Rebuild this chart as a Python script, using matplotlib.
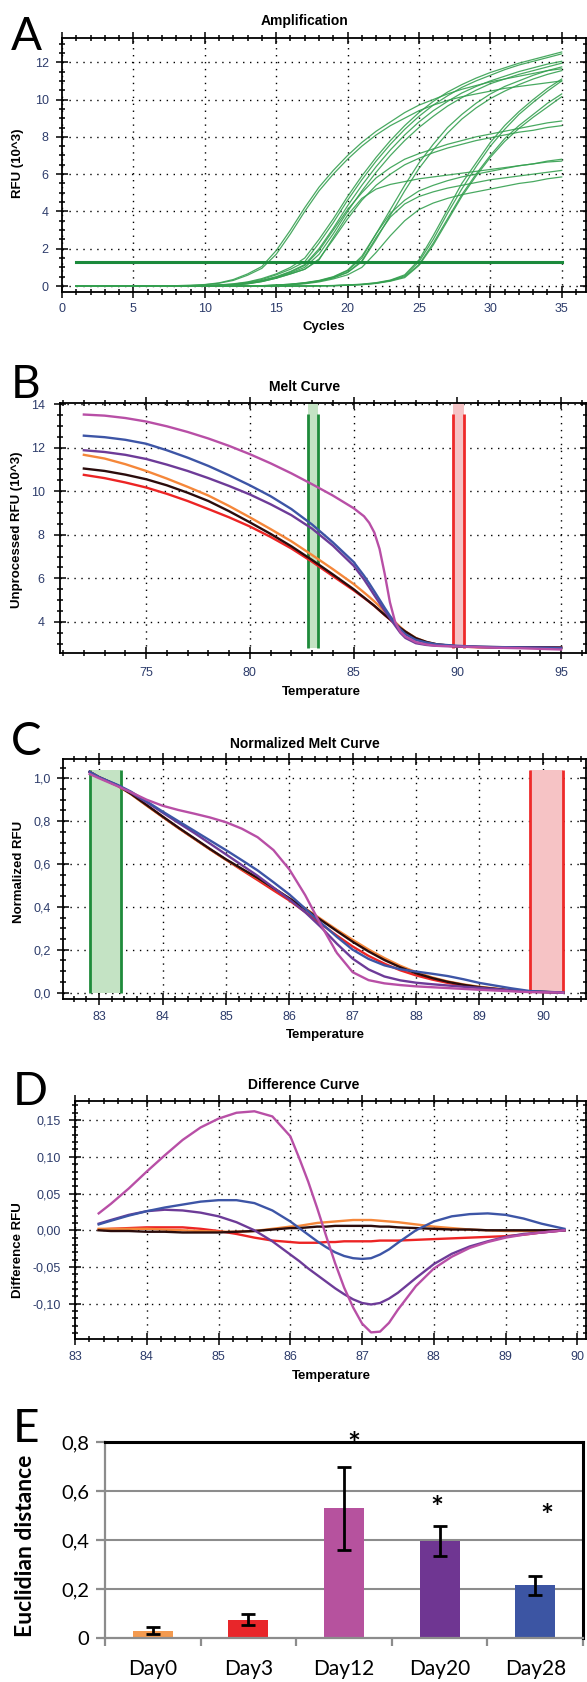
import matplotlib
matplotlib.use("Agg")
import matplotlib.pyplot as plt
from matplotlib.ticker import MultipleLocator, FuncFormatter
from matplotlib.transforms import offset_copy

# ---------------- data ----------------
cycles = list(range(1, 36))

# panel A: amplification curves (RFU x10^3), one value per cycle 1..35
amp_early = [
    [0, 0, 0, 0, 0, 0, 0, 0.02, 0.04, 0.08, 0.17, 0.35, 0.65, 1.05, 1.9, 3.0, 4.2, 5.3, 6.2, 7.0,
     7.7, 8.3, 8.8, 9.3, 9.7, 10.0, 10.3, 10.55, 10.75, 10.95, 11.1, 11.25, 11.4, 11.55, 11.65],
    [0, 0, 0, 0, 0, 0, 0, 0.02, 0.03, 0.07, 0.15, 0.3, 0.58, 0.95, 1.7, 2.8, 4.0, 5.1, 6.0, 6.8,
     7.5, 8.1, 8.6, 9.0, 9.4, 9.7, 9.95, 10.15, 10.3, 10.45, 10.6, 10.7, 10.8, 10.9, 11.0],
]
amp_mid = [
    [0, 0, 0, 0, 0, 0, 0, 0, 0.01, 0.03, 0.06, 0.12, 0.22, 0.4, 0.65, 1.0, 1.5, 2.5, 3.6, 4.8,
     5.9, 6.9, 7.8, 8.6, 9.3, 9.9, 10.4, 10.8, 11.15, 11.45, 11.7, 11.95, 12.15, 12.35, 12.55],
    [0, 0, 0, 0, 0, 0, 0, 0, 0.01, 0.02, 0.05, 0.1, 0.2, 0.35, 0.6, 0.9, 1.3, 2.3, 3.4, 4.6,
     5.7, 6.7, 7.6, 8.4, 9.1, 9.7, 10.2, 10.65, 11.0, 11.3, 11.6, 11.85, 12.05, 12.25, 12.45],
    [0, 0, 0, 0, 0, 0, 0, 0, 0, 0.02, 0.04, 0.08, 0.16, 0.3, 0.5, 0.78, 1.15, 2.0, 3.1, 4.3,
     5.4, 6.4, 7.3, 8.1, 8.8, 9.4, 9.9, 10.35, 10.7, 11.0, 11.25, 11.5, 11.7, 11.9, 12.05],
    [0, 0, 0, 0, 0, 0, 0, 0, 0, 0.02, 0.03, 0.07, 0.14, 0.26, 0.45, 0.7, 1.0, 1.7, 2.8, 4.0,
     5.1, 6.1, 7.0, 7.8, 8.5, 9.1, 9.65, 10.1, 10.5, 10.85, 11.1, 11.35, 11.55, 11.75, 11.95],
    [0, 0, 0, 0, 0, 0, 0, 0, 0, 0.02, 0.04, 0.08, 0.15, 0.28, 0.48, 0.75, 1.1, 1.9, 3.0, 4.1,
     5.0, 5.8, 6.35, 6.8, 7.1, 7.35, 7.6, 7.8, 8.0, 8.15, 8.3, 8.45, 8.6, 8.75, 8.85],
    [0, 0, 0, 0, 0, 0, 0, 0, 0, 0.01, 0.03, 0.06, 0.12, 0.24, 0.42, 0.65, 0.9, 1.45, 2.5, 3.6,
     4.6, 5.4, 6.0, 6.5, 6.85, 7.15, 7.4, 7.6, 7.8, 7.95, 8.1, 8.25, 8.35, 8.5, 8.6],
    [0, 0, 0, 0, 0, 0, 0, 0, 0, 0.01, 0.03, 0.06, 0.12, 0.24, 0.42, 0.65, 0.9, 1.4, 2.6, 3.8,
     4.7, 5.2, 5.45, 5.6, 5.75, 5.85, 5.95, 6.05, 6.15, 6.25, 6.35, 6.45, 6.55, 6.65, 6.7],
]
amp_late = [
    [0, 0, 0, 0, 0, 0, 0, 0, 0, 0, 0, 0, 0, 0.02, 0.05, 0.1, 0.18, 0.3, 0.5, 0.85,
     1.6, 2.8, 4.1, 5.4, 6.6, 7.6, 8.5, 9.2, 9.8, 10.3, 10.7, 11.0, 11.3, 11.55, 11.75],
    [0, 0, 0, 0, 0, 0, 0, 0, 0, 0, 0, 0, 0, 0.01, 0.04, 0.08, 0.15, 0.26, 0.44, 0.72,
     1.3, 2.5, 3.8, 5.1, 6.3, 7.3, 8.2, 8.95, 9.55, 10.05, 10.45, 10.8, 11.1, 11.35, 11.55],
    [0, 0, 0, 0, 0, 0, 0, 0, 0, 0, 0, 0, 0, 0.02, 0.05, 0.1, 0.17, 0.28, 0.48, 0.82,
     1.5, 2.8, 3.9, 4.6, 5.1, 5.4, 5.65, 5.85, 6.0, 6.15, 6.3, 6.45, 6.55, 6.7, 6.8],
    [0, 0, 0, 0, 0, 0, 0, 0, 0, 0, 0, 0, 0, 0.01, 0.04, 0.08, 0.15, 0.26, 0.44, 0.74,
     1.35, 2.6, 3.7, 4.4, 4.8, 5.05, 5.25, 5.4, 5.55, 5.7, 5.8, 5.9, 6.0, 6.1, 6.2],
    [0, 0, 0, 0, 0, 0, 0, 0, 0, 0, 0, 0, 0, 0.01, 0.03, 0.06, 0.12, 0.22, 0.38, 0.6,
     1.0, 1.8, 2.7, 3.5, 4.1, 4.45, 4.7, 4.9, 5.05, 5.2, 5.35, 5.5, 5.6, 5.75, 5.85],
]
amp_last = [
    [0, 0, 0, 0, 0, 0, 0, 0, 0, 0, 0, 0, 0, 0, 0, 0, 0, 0.01, 0.03, 0.06,
     0.1, 0.18, 0.32, 0.6, 1.4, 2.7, 4.1, 5.5, 6.6, 7.7, 8.6, 9.35, 10.0, 10.6, 11.1],
    [0, 0, 0, 0, 0, 0, 0, 0, 0, 0, 0, 0, 0, 0, 0, 0, 0, 0.01, 0.02, 0.05,
     0.09, 0.16, 0.3, 0.55, 1.3, 2.5, 3.9, 5.2, 6.4, 7.5, 8.4, 9.2, 9.85, 10.45, 11.0],
    [0, 0, 0, 0, 0, 0, 0, 0, 0, 0, 0, 0, 0, 0, 0, 0, 0, 0.01, 0.02, 0.04,
     0.08, 0.15, 0.28, 0.5, 1.15, 2.3, 3.6, 4.9, 6.0, 7.0, 7.9, 8.6, 9.2, 9.8, 10.3],
    [0, 0, 0, 0, 0, 0, 0, 0, 0, 0, 0, 0, 0, 0, 0, 0, 0, 0.01, 0.02, 0.04,
     0.07, 0.14, 0.26, 0.45, 1.1, 2.2, 3.5, 4.8, 5.9, 6.9, 7.75, 8.45, 9.05, 9.6, 10.15],
]
threshold = 1.29

# panel B: raw melt curves
temps_b = [72, 73, 74, 75, 76, 77, 78, 79, 80, 81, 82, 83, 84, 85, 85.5, 85.75, 86, 86.25,
           86.5, 86.75, 87, 87.25, 87.5, 88, 88.5, 89, 90, 91, 92, 93, 94, 95]
melt_red = [10.75, 10.6, 10.4, 10.17, 9.88, 9.55, 9.18, 8.8, 8.38, 7.9, 7.37, 6.76, 6.1, 5.45,
            5.1, 4.92, 4.73, 4.52, 4.31, 4.11, 3.9, 3.7, 3.52, 3.22, 3.04, 2.95, 2.86, 2.84,
            2.83, 2.83, 2.82, 2.82]
melt_orange = [11.67, 11.5, 11.24, 10.93, 10.58, 10.2, 9.8, 9.32, 8.8, 8.26, 7.7, 7.07, 6.42,
               5.74, 5.35, 5.15, 4.94, 4.71, 4.47, 4.23, 3.99, 3.76, 3.56, 3.26, 3.08, 2.97,
               2.87, 2.84, 2.82, 2.81, 2.8, 2.8]
melt_black = [11.04, 10.93, 10.76, 10.55, 10.27, 9.93, 9.55, 9.08, 8.57, 8.04, 7.47, 6.84, 6.18,
              5.5, 5.12, 4.93, 4.74, 4.53, 4.32, 4.12, 3.92, 3.72, 3.55, 3.25, 3.08, 2.97,
              2.87, 2.85, 2.84, 2.83, 2.83, 2.82]
melt_purple = [11.88, 11.8, 11.67, 11.48, 11.22, 10.93, 10.6, 10.24, 9.85, 9.4, 8.9, 8.28, 7.5,
               6.58, 5.95, 5.59, 5.22, 4.86, 4.5, 4.17, 3.83, 3.5, 3.26, 3.02, 2.94, 2.9,
               2.88, 2.85, 2.83, 2.82, 2.81, 2.8]
melt_blue = [12.55, 12.48, 12.36, 12.18, 11.88, 11.54, 11.16, 10.73, 10.27, 9.77, 9.18, 8.47,
             7.65, 6.75, 6.12, 5.77, 5.4, 5.02, 4.64, 4.28, 3.95, 3.66, 3.43, 3.17, 3.05, 2.97,
             2.9, 2.86, 2.84, 2.82, 2.81, 2.8]
melt_magenta = [13.52, 13.47, 13.36, 13.2, 12.98, 12.72, 12.42, 12.08, 11.7, 11.28, 10.82, 10.32,
                9.8, 9.22, 8.85, 8.55, 8.1, 7.35, 6.2, 4.9, 4.0, 3.55, 3.32, 3.07, 2.96, 2.9,
                2.87, 2.84, 2.81, 2.79, 2.76, 2.73]

# melt region markers (start/end temperature)
band_green_b = [82.8, 83.3]
band_red_b = [89.8, 90.3]
band_green_c = [82.85, 83.34]
band_red_c = [89.8, 90.32]

# panel C: normalized melt curves
temps_c = [82.85, 83.0, 83.3, 83.5, 83.75, 84, 84.25, 84.5, 84.75, 85, 85.25, 85.5, 85.75, 86,
           86.25, 86.5, 86.75, 87, 87.25, 87.5, 87.75, 88, 88.25, 88.5, 88.75, 89, 89.5, 89.8,
           90.32]
norm_red = [1.03, 1.005, 0.965, 0.928, 0.874, 0.82, 0.768, 0.718, 0.668, 0.62, 0.572, 0.525,
            0.477, 0.43, 0.376, 0.32, 0.266, 0.215, 0.171, 0.135, 0.104, 0.08, 0.061, 0.045,
            0.032, 0.022, 0.009, 0.004, 0.0]
norm_orange = [1.03, 1.005, 0.963, 0.926, 0.872, 0.82, 0.768, 0.718, 0.668, 0.62, 0.576, 0.533,
               0.487, 0.44, 0.393, 0.343, 0.293, 0.246, 0.201, 0.161, 0.125, 0.095, 0.071,
               0.052, 0.038, 0.027, 0.011, 0.005, 0.0]
norm_black = [1.03, 1.005, 0.965, 0.928, 0.875, 0.822, 0.77, 0.72, 0.67, 0.622, 0.578, 0.535,
              0.488, 0.44, 0.39, 0.338, 0.287, 0.237, 0.192, 0.152, 0.118, 0.09, 0.068, 0.05,
              0.036, 0.025, 0.01, 0.005, 0.0]
norm_purple = [1.03, 1.005, 0.965, 0.933, 0.888, 0.84, 0.792, 0.745, 0.695, 0.645, 0.595, 0.545,
               0.49, 0.435, 0.375, 0.305, 0.228, 0.158, 0.108, 0.075, 0.057, 0.046, 0.039,
               0.033, 0.027, 0.022, 0.01, 0.004, 0.0]
norm_blue = [1.03, 1.005, 0.968, 0.938, 0.892, 0.845, 0.8, 0.755, 0.71, 0.665, 0.618, 0.57,
             0.515, 0.458, 0.392, 0.325, 0.26, 0.2, 0.157, 0.127, 0.109, 0.098, 0.088, 0.077,
             0.062, 0.045, 0.02, 0.007, 0.0]
norm_magenta = [1.02, 1.0, 0.962, 0.935, 0.9, 0.872, 0.852, 0.835, 0.817, 0.795, 0.765, 0.725,
                0.665, 0.575, 0.455, 0.315, 0.185, 0.095, 0.058, 0.043, 0.035, 0.029, 0.025,
                0.021, 0.017, 0.013, 0.006, 0.002, 0.0]

# panel D: difference curves
temps_d = [83.33, 83.5, 83.75, 84, 84.25, 84.5, 84.75, 85, 85.25, 85.5, 85.75, 86, 86.125, 86.25,
           86.375, 86.5, 86.625, 86.75, 86.875, 87, 87.125, 87.25, 87.375, 87.5, 87.75, 88,
           88.25, 88.5, 88.75, 89, 89.25, 89.5, 89.82]
diff_red = [0.001, 0.002, 0.003, 0.004, 0.004, 0.004, 0.002, -0.001, -0.005, -0.01, -0.014,
            -0.016, -0.017, -0.017, -0.017, -0.016, -0.016, -0.015, -0.015, -0.015, -0.015,
            -0.014, -0.014, -0.014, -0.013, -0.012, -0.011, -0.01, -0.009, -0.008, -0.006,
            -0.003, 0.0]
diff_orange = [0.002, 0.002, 0.002, 0.002, 0.001, 0.0, -0.001, -0.002, -0.002, -0.001, 0.002,
               0.005, 0.006, 0.008, 0.01, 0.011, 0.012, 0.013, 0.014, 0.014, 0.014, 0.013, 0.012,
               0.011, 0.008, 0.005, 0.003, 0.001, 0.0, -0.001, -0.001, -0.001, 0.0]
diff_black = [0.0, -0.001, -0.001, -0.002, -0.002, -0.003, -0.003, -0.003, -0.002, -0.001, 0.001,
              0.003, 0.003, 0.004, 0.005, 0.005, 0.006, 0.006, 0.006, 0.006, 0.006, 0.005, 0.005,
              0.004, 0.003, 0.002, 0.001, 0.001, 0.0, 0.0, 0.0, 0.0, 0.0]
diff_purple = [0.009, 0.014, 0.021, 0.026, 0.028, 0.027, 0.024, 0.019, 0.011, 0.0, -0.015,
               -0.033, -0.042, -0.052, -0.061, -0.07, -0.079, -0.087, -0.094, -0.099, -0.101,
               -0.099, -0.093, -0.085, -0.065, -0.046, -0.032, -0.022, -0.015, -0.009, -0.005,
               -0.003, 0.0]
diff_blue = [0.008, 0.013, 0.02, 0.026, 0.031, 0.035, 0.039, 0.041, 0.041, 0.037, 0.027, 0.012,
             0.003, -0.006, -0.015, -0.023, -0.03, -0.035, -0.038, -0.039, -0.038, -0.033, -0.026,
             -0.017, 0.0, 0.012, 0.019, 0.022, 0.023, 0.021, 0.016, 0.009, 0.002]
diff_magenta = [0.023, 0.036, 0.057, 0.08, 0.102, 0.123, 0.14, 0.152, 0.16, 0.162, 0.155, 0.128,
                0.098, 0.066, 0.03, -0.008, -0.045, -0.078, -0.105, -0.127, -0.139, -0.138,
                -0.126, -0.108, -0.076, -0.052, -0.036, -0.024, -0.016, -0.01, -0.006, -0.003,
                0.0]

# panel E: euclidian distance per day
days = ["Day0", "Day3", "Day12", "Day20", "Day28"]
dist = [0.03, 0.075, 0.53, 0.395, 0.215]
dist_err = [0.014, 0.022, 0.17, 0.062, 0.04]
sig_x = [2.1, 2.97, 4.12]
sig_y = [0.823, 0.565, 0.532]

# colours
C_RED, C_ORANGE, C_BLACK = "#ec2424", "#f5873a", "#2a0c0c"
C_PURPLE, C_BLUE, C_MAGENTA = "#6d3b98", "#3d55a6", "#b84fa6"
bar_colors = ["#f39a4f", "#e8262a", "#b6529e", "#6f3692", "#3c55a3"]

# ---------------- figure ----------------
W, H = 587, 1682
fig = plt.figure(figsize=(W / 100, H / 100), dpi=100)
ARIAL = ["Liberation Sans", "DejaVu Sans"]
CALI = ["Lato", "DejaVu Sans"]
TICK_COL = "#2d3c6b"


def px_axes(l, t, r, b):
    return fig.add_axes([l / W, 1 - b / H, (r - l) / W, (b - t) / H])


def ftext(x, y, s, **kw):
    return fig.text(x / W, 1 - y / H, s, **kw)


def comma(dec):
    def f(v, p):
        if abs(v) < 1e-9:
            v = 0.0
        return f"{v:.{dec}f}".replace(".", ",")
    return FuncFormatter(f)


def style_cfx(ax, xmaj, xmin, ymaj, ymin, xpad, ypad):
    ax.xaxis.set_major_locator(MultipleLocator(xmaj))
    ax.xaxis.set_minor_locator(MultipleLocator(xmin))
    ax.yaxis.set_major_locator(MultipleLocator(ymaj))
    ax.yaxis.set_minor_locator(MultipleLocator(ymin))
    ax.grid(True, which="major", linestyle=(0, (1, 4)), color="black", linewidth=1.0)
    ax.tick_params(which="both", direction="inout", top=True, right=True, color="black",
                   width=1.1, labelcolor=TICK_COL, labelsize=9)
    ax.tick_params(which="major", length=8)
    ax.tick_params(which="minor", length=5)
    ax.tick_params(axis="x", pad=xpad)
    ax.tick_params(axis="y", pad=ypad)
    for lab in ax.get_xticklabels() + ax.get_yticklabels():
        lab.set_family(ARIAL)
    for s in ax.spines.values():
        s.set_linewidth(1.3)
    ax.set_axisbelow(True)


def draw_bands(ax, bands, y0, fill_top, line_top):
    for (x0, x1), fc, lc in zip(bands, ("#c4e3c4", "#f6c3c5"), ("#1f8b3b", "#ee2a2a")):
        ax.fill_between([x0, x1], y0, fill_top, color=fc, lw=0, zorder=1)
        ax.vlines([x0, x1], y0, line_top, color=lc, lw=2.0, zorder=2)


# ---- A: amplification
axA = px_axes(62, 38, 586, 292)
for grp in (amp_early, amp_mid, amp_late, amp_last):
    for curve in grp:
        axA.plot(cycles, curve, color="#35a050", lw=0.9, alpha=0.9, zorder=3)
axA.plot([cycles[0], cycles[-1]], [threshold, threshold], color="#1b8a3c", lw=2.2, zorder=4)
axA.set_xlim(0, 36.7)
axA.set_ylim(-0.32, 13.3)
style_cfx(axA, 5, 1, 2, 0.5, 4, 5.5)
ftext(305, 21, "Amplification", ha="center", va="center", fontsize=10, fontweight="bold", family=ARIAL)
ftext(324, 327, "Cycles", ha="center", va="center", fontsize=9.5, fontweight="bold", family=ARIAL)
ftext(18, 163, "RFU (10^3)", ha="center", va="center", rotation=90, fontsize=9.5, fontweight="bold", family=ARIAL)

# ---- B: melt curve
axB = px_axes(60, 403, 586, 653)
draw_bands(axB, (band_green_b, band_red_b), 2.8, 14.2, 13.55)
for vals, col in ((melt_red, C_RED), (melt_orange, C_ORANGE), (melt_black, C_BLACK),
                  (melt_purple, C_PURPLE), (melt_blue, C_BLUE), (melt_magenta, C_MAGENTA)):
    axB.plot(temps_b, vals, color=col, lw=1.7, zorder=3)
axB.set_xlim(70.85, 96.2)
axB.set_ylim(2.57, 14.05)
style_cfx(axB, 5, 1, 2, 0.5, 6, 7)
ftext(305, 387, "Melt Curve", ha="center", va="center", fontsize=10, fontweight="bold", family=ARIAL)
ftext(321, 692, "Temperature", ha="center", va="center", fontsize=9.5, fontweight="bold", family=ARIAL)
ftext(17, 530, "Unprocessed RFU (10^3)", ha="center", va="center", rotation=90, fontsize=9.5,
      fontweight="bold", family=ARIAL)

# ---- C: normalized melt curve
axC = px_axes(63, 759, 586, 999)
draw_bands(axC, (band_green_c, band_red_c), 0.0, 1.04, 1.04)
for vals, col in ((norm_red, C_RED), (norm_orange, C_ORANGE), (norm_black, C_BLACK),
                  (norm_purple, C_PURPLE), (norm_blue, C_BLUE), (norm_magenta, C_MAGENTA)):
    axC.plot(temps_c, vals, color=col, lw=1.7, zorder=3)
axC.set_xlim(82.43, 90.68)
axC.set_ylim(-0.03, 1.09)
style_cfx(axC, 1, 0.2, 0.2, 0.05, 5, 5)
axC.yaxis.set_major_formatter(comma(1))
ftext(305, 744, "Normalized Melt Curve", ha="center", va="center", fontsize=10, fontweight="bold", family=ARIAL)
ftext(325, 1035, "Temperature", ha="center", va="center", fontsize=9.5, fontweight="bold", family=ARIAL)
ftext(19, 872, "Normalized RFU", ha="center", va="center", rotation=90, fontsize=9.5,
      fontweight="bold", family=ARIAL)

# ---- D: difference curve
axD = px_axes(75, 1101, 586, 1339)
for vals, col in ((diff_red, C_RED), (diff_orange, C_ORANGE), (diff_black, C_BLACK),
                  (diff_purple, C_PURPLE), (diff_blue, C_BLUE), (diff_magenta, C_MAGENTA)):
    axD.plot(temps_d, vals, color=col, lw=1.7, zorder=3)
axD.set_xlim(83.0, 90.12)
axD.set_ylim(-0.148, 0.176)
style_cfx(axD, 1, 0.2, 0.05, 0.01, 5, 6)
axD.yaxis.set_major_formatter(comma(2))
ftext(304, 1085, "Difference Curve", ha="center", va="center", fontsize=10, fontweight="bold", family=ARIAL)
ftext(331, 1376, "Temperature", ha="center", va="center", fontsize=9.5, fontweight="bold", family=ARIAL)
ftext(18, 1250, "Difference RFU", ha="center", va="center", rotation=90, fontsize=9.5,
      fontweight="bold", family=ARIAL)

# ---- E: bar chart
axE = px_axes(105, 1442, 583, 1638)
xs = list(range(len(days)))
for yv in (0.2, 0.4, 0.6):
    axE.axhline(yv, color="#8c8c8c", lw=1.5, zorder=0)
axE.bar(xs, dist, width=0.42, color=bar_colors, zorder=2,
        yerr=dist_err, capsize=4.7,
        error_kw=dict(elinewidth=2.0, capthick=2.0, ecolor="black", zorder=3))
axE.set_xlim(-0.5, len(days) - 0.5)
axE.set_ylim(0, 0.8)
axE.set_xticks(xs)
axE.set_xticklabels(days)
axE.set_xticks([i - 0.5 for i in range(len(days) + 1)], minor=True)
axE.tick_params(axis="x", which="major", length=0, pad=15, labelsize=15)
axE.tick_params(axis="x", which="minor", length=6, width=1.6, color="#8c8c8c", direction="out")
axE.yaxis.set_major_locator(MultipleLocator(0.2))
axE.yaxis.set_major_formatter(FuncFormatter(lambda v, p: "0" if abs(v) < 1e-9 else f"{v:.1f}".replace(".", ",")))
axE.tick_params(axis="y", length=6.5, width=1.6, color="#8c8c8c", labelsize=14.5, pad=5)
for lab in axE.get_xticklabels() + axE.get_yticklabels():
    lab.set_family(CALI)
for side in ("left", "bottom"):
    axE.spines[side].set_color("#8c8c8c")
    axE.spines[side].set_linewidth(1.6)
for side in ("top", "right"):
    axE.spines[side].set_color("black")
    axE.spines[side].set_linewidth(2.2)
star_tr = offset_copy(axE.transData, fig=fig, x=0, y=-9, units="dots")
for sx, sy in zip(sig_x, sig_y):
    axE.text(sx, sy, "*", ha="center", va="center", fontsize=22, fontweight="bold",
             family=CALI, zorder=5, clip_on=False, transform=star_tr)
ftext(26, 1546, "Euclidian distance", ha="center", va="center", rotation=90, fontsize=16.5,
      fontweight="bold", family=CALI)

# ---- panel letters
for lx, ly, letter in ((11, 50, "A"), (11, 398, "B"), (11, 755, "C"), (13, 1105, "D"), (13, 1442, "E")):
    ftext(lx, ly, letter, ha="left", va="baseline", fontsize=33, family=CALI)

fig.savefig("out.png", dpi=100)
